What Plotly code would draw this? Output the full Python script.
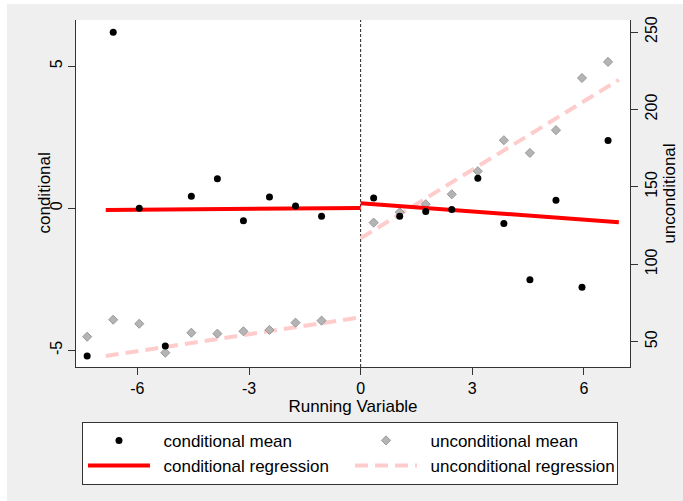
import plotly.graph_objects as go

# ---- data ----
bins_left = [-7.35, -6.65, -5.95, -5.25, -4.55, -3.85, -3.15, -2.45, -1.75, -1.05]
bins_right = [0.35, 1.05, 1.75, 2.45, 3.15, 3.85, 4.55, 5.25, 5.95, 6.65]
running = bins_left + bins_right

cond_mean = [-5.2, 6.2, 0.0, -4.85, 0.42, 1.04, -0.44, 0.40, 0.08, -0.28,
             0.36, -0.28, -0.11, -0.04, 1.06, -0.54, -2.52, 0.28, -2.78, 2.39]
uncond_mean = [53.2, 64.2, 61.6, 42.9, 55.8, 55.2, 56.7, 57.6, 62.3, 63.6,
               126.9, 133.6, 138.8, 145.2, 160.1, 180.1, 171.9, 186.6, 220.3, 230.7]

cutoff = 0
reg_x_left = [-6.85, 0]
reg_x_right = [0, 6.94]
cond_reg_left = [-0.06, 0.01]
cond_reg_right = [0.18, -0.49]
uncond_reg_left = [40.8, 65.8]
uncond_reg_right = [116.8, 219.1]

x_ticks = [-6, -3, 0, 3, 6]
x_tick_labels = ["-6", "-3", "0", "3", "6"]
cond_ticks = [-5, 0, 5]
cond_tick_labels = ["-5", "0", "5"]
uncond_ticks = [50, 100, 150, 200, 250]
uncond_tick_labels = ["50", "100", "150", "200", "250"]

FONT = "Liberation Sans, Arial, Helvetica, sans-serif"
AX = "#333333"
GAP = "\u2002"  # spacing between legend key and label

fig = go.Figure()

# unconditional (primary y axis, drawn on the right)
fig.add_trace(go.Scatter(
    x=reg_x_left + [None] + reg_x_right,
    y=uncond_reg_left + [None] + uncond_reg_right,
    mode="lines", name=GAP + "unconditional regression", yaxis="y",
    line=dict(color="#ffcccc", width=4, dash="13px,7px"),
    legendrank=4, connectgaps=False))
fig.add_trace(go.Scatter(
    x=running, y=uncond_mean, mode="markers", name=GAP + "unconditional mean",
    yaxis="y", legendrank=2,
    marker=dict(symbol="diamond", size=7, color="#b4b4b4",
                line=dict(color="#999999", width=1))))

# conditional (overlaying y axis on the left, drawn above)
fig.add_trace(go.Scatter(
    x=reg_x_left + [None] + reg_x_right,
    y=cond_reg_left + [None] + cond_reg_right,
    mode="lines", name=GAP + "conditional regression", yaxis="y2",
    line=dict(color="#ff0000", width=4), legendrank=3, connectgaps=False))
fig.add_trace(go.Scatter(
    x=running, y=cond_mean, mode="markers", name=GAP + "conditional mean",
    yaxis="y2", legendrank=1,
    marker=dict(symbol="circle", size=7, color="black")))

# cutoff line
fig.add_shape(type="line", xref="x", yref="paper", x0=cutoff, x1=cutoff,
              y0=0, y1=1, layer="below",
              line=dict(color="#222222", width=1, dash="3px,2px"))

# white outer border strips (figure region is grey inset)
fig.add_shape(type="rect", xref="paper", yref="paper", x0=-0.3, x1=-0.1245,
              y0=-1, y1=2, line=dict(width=0), fillcolor="white", layer="below")
fig.add_shape(type="rect", xref="paper", yref="paper", x0=-0.3, x1=1.3,
              y0=1.0461, y1=2, line=dict(width=0), fillcolor="white", layer="below")

# left axis title
fig.add_annotation(text="conditional", xref="paper", yref="paper", x=0, y=0.5,
                   xshift=-32, xanchor="center", yanchor="middle",
                   textangle=-90, showarrow=False,
                   font=dict(size=17, family=FONT, color="black"))

axis_common = dict(showline=True, linecolor=AX, linewidth=1, ticks="outside",
                   ticklen=7, tickcolor=AX, tickwidth=1, showgrid=False,
                   zeroline=False, automargin=False,
                   tickfont=dict(size=16, color="black", family=FONT))

fig.update_layout(
    width=683, height=501,
    margin=dict(l=76, r=53, t=20, b=134, autoexpand=False),
    paper_bgcolor="#efefef", plot_bgcolor="white",
    font=dict(family=FONT, color="black", size=16),
    template="none",
    xaxis=dict(range=[-7.65, 7.24], tickvals=x_ticks, ticktext=x_tick_labels,
               title=dict(text="Running Variable", standoff=1,
                          font=dict(size=17, family=FONT)),
               **axis_common),
    yaxis=dict(range=[33.66, 257.75], tickvals=uncond_ticks,
               ticktext=uncond_tick_labels, side="right", tickangle=-90,
               title=dict(text="unconditional", standoff=3,
                          font=dict(size=17, family=FONT)),
               **axis_common),
    yaxis2=dict(range=[-5.59, 6.63], tickvals=cond_ticks,
                ticktext=cond_tick_labels, side="left",
                overlaying="y", tickangle=-90,
                **axis_common),
    showlegend=True,
    legend=dict(orientation="h", x=0.0108, xanchor="left", y=-0.158,
                yanchor="top", bgcolor="white", bordercolor=AX, borderwidth=1,
                font=dict(size=17, family=FONT, color="black"),
                entrywidth=190, entrywidthmode="pixels", itemwidth=62,
                tracegroupgap=0),
)

fig.write_html("out.html")
